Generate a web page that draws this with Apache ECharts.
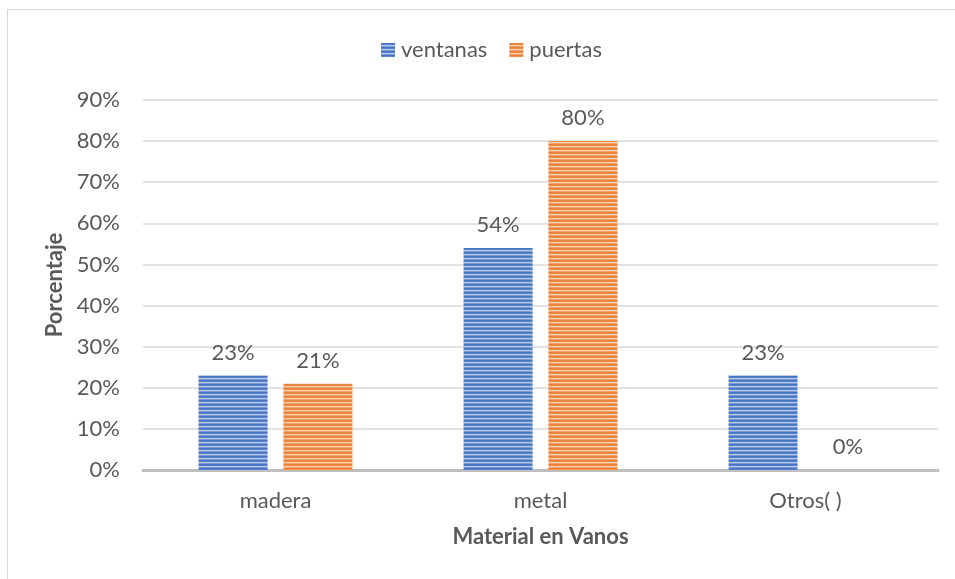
<!DOCTYPE html>
<html>
<head>
<meta charset="utf-8">
<script src="https://cdn.jsdelivr.net/npm/echarts@6/dist/echarts.min.js"></script>
<style>
  html, body { margin: 0; padding: 0; background: #fff; overflow: hidden; }
  #wrap { position: relative; width: 955px; height: 579px; overflow: hidden; }
  #frame { position: absolute; left: 7px; top: 9px; width: 1000px; height: 700px; border: 1.5px solid #d9d9d9; box-sizing: border-box; }
  #main { position: absolute; left: 0; top: 0; width: 955px; height: 579px; }
</style>
</head>
<body>
<div id="wrap">
  <div id="frame"></div>
  <div id="main"></div>
</div>
<script>
// data
const categories = ['madera', 'metal', 'Otros( )']
const ventanas = [23, 54, 23]
const puertas = [21, 80, 0]

// horizontal stripe fill like the office "narrow horizontal" pattern
function stripes(rgb) {
  const c = document.createElement('canvas')
  c.width = 4
  c.height = 4
  const ctx = c.getContext('2d')
  const mix = (k) => 'rgb(' + rgb.map(v => Math.round(v + (255 - v) * k)).join(',') + ')'
  const rows = [0, 0.12, 0.6, 0.3]
  rows.forEach((k, i) => {
    ctx.fillStyle = mix(k)
    ctx.fillRect(0, i, 4, 1)
  })
  return { image: c, repeat: 'repeat' }
}

const blue = stripes([68, 114, 196])
const orange = stripes([237, 125, 49])
const font = 'Lato, "Open Sans", sans-serif'
const textColor = '#595959'
const fs = 22

const chart = echarts.init(document.getElementById('main'))
chart.setOption({
  animation: false,
  textStyle: { fontFamily: font },
  legend: {
    top: 34,
    left: 376,
    itemWidth: 14,
    itemHeight: 14,
    itemGap: 22,
    icon: 'rect',
    textStyle: { fontSize: fs, color: textColor, fontFamily: font, padding: [0, 0, 0, 1] },
    data: [
      { name: 'ventanas', itemStyle: { color: blue } },
      { name: 'puertas', itemStyle: { color: orange } }
    ]
  },
  grid: {
    left: 143,
    right: 17,
    top: 100,
    bottom: 109
  },
  xAxis: {
    type: 'category',
    data: categories,
    name: 'Material en Vanos',
    nameLocation: 'middle',
    nameGap: 56,
    nameTextStyle: { fontSize: fs, fontWeight: 'bold', color: textColor, fontFamily: font },
    axisLine: { lineStyle: { color: '#bfbfbf', width: 3 } },
    axisTick: { show: false },
    axisLabel: { fontSize: fs, color: textColor, margin: 20, fontFamily: font }
  },
  yAxis: {
    type: 'value',
    min: 0,
    max: 90,
    interval: 10,
    name: 'Porcentaje',
    nameLocation: 'middle',
    nameGap: 72,
    nameTextStyle: { fontSize: fs, fontWeight: 'bold', color: textColor, fontFamily: font },
    axisLine: { show: false },
    axisTick: { show: false },
    splitLine: { lineStyle: { color: '#d9d9d9', width: 1.5 } },
    axisLabel: { fontSize: fs, color: textColor, margin: 23, formatter: '{value}%', fontFamily: font }
  },
  series: [
    {
      name: 'ventanas',
      type: 'bar',
      data: ventanas,
      barWidth: 69,
      barGap: '23%',
      itemStyle: { color: blue },
      label: { show: true, position: 'top', distance: 12, formatter: '{c}%', fontSize: fs, color: textColor, fontFamily: font }
    },
    {
      name: 'puertas',
      type: 'bar',
      data: puertas,
      barWidth: 69,
      itemStyle: { color: orange },
      label: { show: true, position: 'top', distance: 12, formatter: '{c}%', fontSize: fs, color: textColor, fontFamily: font }
    }
  ]
})
</script>
</body>
</html>
